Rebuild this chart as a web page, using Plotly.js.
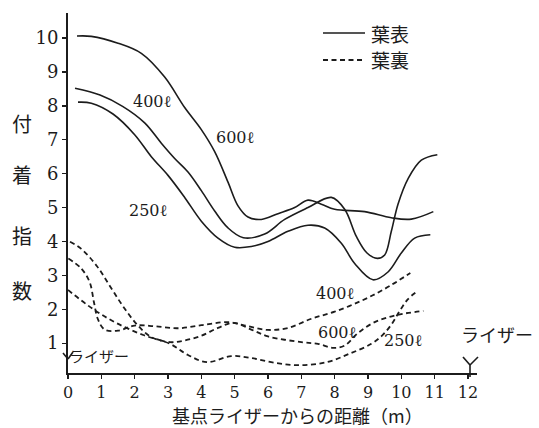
<!DOCTYPE html>
<html><head><meta charset="utf-8">
<script src="https://cdn.plot.ly/plotly-3.0.1.min.js"></script>
<style>html,body{margin:0;padding:0;background:#fff;}#chart{width:539px;height:428px;}</style>
</head><body><div id="chart"></div>
<script>
// 葉表 (solid) — 付着指数 vs 距離 (m)
const top600x = [0.27, 0.7, 1.5, 2.2, 2.9, 3.5, 4.0, 4.4, 4.8, 5.1, 5.4, 5.8, 6.3, 6.8, 7.2, 7.6, 8.0, 8.9, 9.7, 10.3, 10.96];
const top600y = [10.06, 10.05, 9.85, 9.55, 8.85, 7.95, 7.3, 6.65, 5.75, 5.05, 4.72, 4.65, 4.82, 5.0, 5.22, 5.1, 4.95, 4.88, 4.7, 4.66, 4.88];
const top400x = [0.21, 0.96, 1.65, 2.3, 2.8, 3.2, 3.6, 4.0, 4.4, 4.8, 5.26, 5.9, 6.5, 7.2, 7.9, 8.3, 8.65, 8.97, 9.28, 9.5, 9.7, 9.9, 10.2, 10.6, 11.08];
const top400y = [8.52, 8.32, 7.98, 7.5, 6.9, 6.45, 6.05, 5.5, 4.9, 4.4, 4.11, 4.22, 4.65, 5.0, 5.3, 4.95, 4.15, 3.66, 3.5, 3.6, 4.3, 5.1, 5.85, 6.4, 6.56];
const top250x = [0.3, 0.7, 1.35, 2.0, 2.5, 3.0, 3.5, 4.0, 4.5, 5.0, 5.5, 6.0, 6.6, 7.2, 7.7, 8.2, 8.6, 9.15, 9.6, 10.0, 10.4, 10.87];
const top250y = [8.11, 8.08, 7.76, 7.15, 6.5, 5.95, 5.3, 4.6, 4.1, 3.83, 3.85, 4.0, 4.3, 4.48, 4.4, 3.95, 3.35, 2.87, 3.1, 3.66, 4.1, 4.2];
// 葉裏 (dashed)
const back400x = [0.01, 0.4, 0.65, 0.78, 0.9, 1.1, 1.5, 2.0, 2.6, 3.3, 4.0, 4.8, 5.4, 6.0, 6.6, 7.3, 8.0, 8.8, 9.5, 10.27];
const back400y = [3.5, 3.2, 2.8, 2.2, 1.7, 1.4, 1.37, 1.52, 1.5, 1.44, 1.53, 1.62, 1.5, 1.39, 1.45, 1.72, 1.93, 2.25, 2.6, 3.07];
const back600x = [0.06, 0.4, 0.87, 1.26, 1.65, 2.07, 2.5, 3.06, 3.5, 4.0, 4.5, 4.96, 5.5, 6.0, 7.0, 7.5, 7.96, 8.3, 8.7, 9.2, 9.86, 10.66];
const back600y = [3.99, 3.78, 3.27, 2.68, 2.09, 1.55, 1.18, 1.03, 1.08, 1.22, 1.45, 1.6, 1.4, 1.2, 1.03, 0.98, 0.86, 0.93, 1.3, 1.62, 1.83, 1.95];
const back250x = [0.0, 0.76, 1.46, 2.26, 3.06, 3.6, 4.17, 4.9, 5.5, 6.2, 6.97, 7.77, 8.47, 9.1, 9.45, 9.73, 9.95, 10.2, 10.45];
const back250y = [2.57, 2.0, 1.59, 1.24, 0.98, 0.65, 0.44, 0.62, 0.56, 0.42, 0.35, 0.44, 0.7, 0.98, 1.25, 1.59, 1.95, 2.3, 2.51];

const xTicks = [0,1,2,3,4,5,6,7,8,9,10,11,12];
const yTicks = [1,2,3,4,5,6,7,8,9,10];

const ink = '#1c1c1c';
const W = 539, H = 428, L = 68, R = 62, T = 13, B = 55;
const pw = W - L - R, ph = H - T - B;
const PX = p => (p - L) / pw;
const PY = p => (H - B - p) / ph;

function solid(x, y, name) {
  return {x, y, name, type: 'scatter', mode: 'lines', showlegend: false, hoverinfo: 'skip',
    line: {color: ink, width: 1.6, shape: 'spline', smoothing: 1}};
}
function dashed(x, y, name) {
  return {x, y, name, type: 'scatter', mode: 'lines', showlegend: false, hoverinfo: 'skip',
    line: {color: ink, width: 1.8, dash: '5px,3.5px', shape: 'spline', smoothing: 1}};
}

const data = [
  solid(top600x, top600y, '葉表 600ℓ'),
  solid(top400x, top400y, '葉表 400ℓ'),
  solid(top250x, top250y, '葉表 250ℓ'),
  dashed(back400x, back400y, '葉裏 400ℓ'),
  dashed(back600x, back600y, '葉裏 600ℓ'),
  dashed(back250x, back250y, '葉裏 250ℓ')
];

const cjk = '"Noto Sans CJK JP", "Noto Sans CJK SC", sans-serif';
const serif = '"DejaVu Serif", "Liberation Serif", serif';

function txt(text, px, py, size, family, xanchor) {
  return {text, x: PX(px), y: PY(py), xref: 'paper', yref: 'paper', showarrow: false,
    xanchor: xanchor || 'center', yanchor: 'middle', font: {family, size, color: ink}};
}

const annotations = [
  txt('付', 22, 123, 20, cjk), txt('着', 22, 174, 20, cjk),
  txt('指', 22, 235, 20, cjk), txt('数', 22, 290, 20, cjk),
  txt('基点ライザーからの距離（m）', 297, 415, 18, cjk),
  txt('葉表', 369, 33, 19, cjk, 'left'), txt('葉裏', 369, 60, 19, cjk, 'left'),
  txt('400ℓ', 152, 101, 16, serif), txt('600ℓ', 235, 137, 16, serif), txt('250ℓ', 148, 210, 16, serif),
  txt('400ℓ', 335, 293, 16, serif), txt('600ℓ', 337, 332, 16, serif), txt('250ℓ', 403, 340, 16, serif),
  txt('ライザー', 99, 355, 15, cjk), txt('ライザー', 497, 334, 18, cjk)
];

function seg(x0, y0, x1, y1, dash) {
  return {type: 'line', xref: 'paper', yref: 'paper', x0: PX(x0), y0: PY(y0), x1: PX(x1), y1: PY(y1),
    line: {color: ink, width: dash ? 1.8 : 1.6, dash: dash ? '5px,3.5px' : 'solid'}};
}
const shapes = [
  seg(323, 33, 365, 33, false),
  seg(323, 60, 365, 60, true),
  // riser symbols
  seg(463, 357, 470, 365, false), seg(478, 357, 470, 365, false), seg(470, 365, 470, 377, false),
  seg(63, 353, 68, 359, false), seg(73, 352, 68, 359, false)
];

const axisCommon = {showgrid: false, zeroline: false, showline: true, linecolor: ink, linewidth: 1.6,
  ticks: 'outside', ticklen: 4, tickwidth: 1.3, tickcolor: ink,
  tickfont: {family: serif, size: 16, color: ink}, fixedrange: true};

const layout = {
  width: W, height: H, margin: {l: L, r: R, t: T, b: B},
  paper_bgcolor: '#fff', plot_bgcolor: '#fff', showlegend: false,
  xaxis: Object.assign({}, axisCommon, {range: [0, 12.27], tickvals: xTicks, ticktext: xTicks.map(String)}),
  yaxis: Object.assign({}, axisCommon, {range: [0.12, 10.74], tickvals: yTicks, ticktext: yTicks.map(String), linewidth: 2, tickfont: {family: serif, size: 18, color: ink}}),
  annotations, shapes
};

Plotly.newPlot('chart', data, layout, {staticPlot: true, displayModeBar: false});
</script></body></html>
